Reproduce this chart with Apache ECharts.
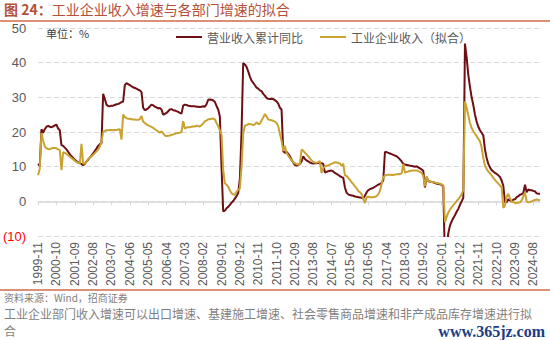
<!DOCTYPE html>
<html><head><meta charset="utf-8">
<script src="https://cdn.jsdelivr.net/npm/echarts@6/dist/echarts.min.js"></script>
<style>html,body{margin:0;padding:0;background:#fff}#c{width:550px;height:340px}</style>
</head><body><div id="c"></div>
<script>
// Monthly categories 1999-11 .. 2024-12
const startYear = 1999, startMonth = 11, monthCount = 302;
const categories = [];
for (let i = 0; i < monthCount; i++) {
  const m = startMonth - 1 + i;
  categories.push((startYear + Math.floor(m / 12)) + '-' + String(m % 12 + 1).padStart(2, '0'));
}
const seriesNames = ['营业收入累计同比', '工业企业收入（拟合）'];
const yTicks = { min: -10, max: 50, step: 10 };

// 营业收入累计同比 (%)
const revenueCumYoY = [
  10.8,10.2,20.8,19.8,20.8,21.5,21.8,21.5,21.4,21.6,21.9,22.1,21.0,20.5,
  16.2,16.0,15.5,15.0,14.3,13.6,13.0,12.5,12.0,11.6,11.2,11.0,
  10.8,10.4,10.8,11.5,12.0,12.6,13.2,13.8,14.5,15.2,16.0,16.5,
  16.8,31.0,29.5,27.9,27.5,27.4,27.6,27.6,27.8,28.0,28.1,28.3,
  28.6,28.8,33.5,34.1,33.8,33.5,33.2,32.9,32.7,32.5,32.2,32.0,
  31.5,27.0,26.3,26.5,26.8,27.4,27.9,27.7,27.3,27.1,26.8,26.9,
  26.5,25.0,25.2,25.5,26.0,26.5,26.6,26.3,26.2,26.0,25.8,25.5,
  25.3,27.6,27.9,27.8,27.6,27.5,27.4,27.4,27.4,27.3,27.3,27.2,
  27.3,27.4,27.3,28.0,29.3,29.4,29.3,29.1,28.7,27.5,26.5,24.5,
  10.0,-2.9,-2.7,-2.0,-1.6,-1.0,-0.4,0.1,0.8,1.5,2.4,6.5,
  20.0,39.9,39.5,38.8,37.5,36.0,34.8,34.2,33.5,32.8,32.5,32.0,
  31.8,31.0,30.5,29.8,29.6,29.5,29.6,29.5,29.2,28.8,28.2,27.0,
  26.5,14.5,14.0,14.3,13.7,13.0,12.0,11.2,10.5,10.3,10.5,10.8,
  11.5,13.0,12.2,11.8,11.5,11.2,11.0,10.9,11.0,11.0,11.1,11.0,
  11.0,10.8,8.3,8.5,8.7,8.8,8.9,8.6,8.2,7.9,7.6,7.3,
  7.0,6.8,4.0,2.5,2.0,1.8,1.7,1.6,1.4,1.3,1.2,1.1,
  1.0,0.9,1.6,2.6,3.2,3.5,3.7,3.9,4.2,4.5,4.8,5.0,
  5.3,6.0,14.2,14.2,14.0,13.8,13.6,13.4,13.2,13.0,12.6,12.1,
  11.5,10.8,10.6,10.5,10.4,10.3,10.2,10.1,10.0,10.1,9.8,9.5,
  9.2,8.8,4.0,7.0,5.8,5.7,5.6,5.5,5.3,5.1,5.0,4.9,
  4.8,4.2,-17.7,-14.0,-9.2,-7.0,-5.8,-4.8,-4.0,-3.0,-2.2,-1.0,
  0.0,1.0,45.5,41.5,36.5,33.0,30.0,27.8,25.0,23.0,21.5,20.5,
  19.8,19.0,15.0,12.5,10.8,9.8,9.0,8.6,8.2,7.9,7.5,7.0,
  6.0,4.5,-0.3,-0.3,0.6,0.3,0.0,0.5,0.6,1.2,1.5,1.9,
  2.1,2.4,4.8,2.6,3.4,3.2,3.2,3.0,2.9,2.3,2.2,2.2
];

// 工业企业收入（拟合） (%)
const fittedRevenue = [
  7.5,9.5,19.7,17.5,15.8,15.3,15.1,15.0,15.3,15.4,15.4,15.3,15.0,14.8,
  9.0,14.2,14.0,13.7,13.3,12.9,12.5,12.1,11.7,11.4,11.1,10.9,
  16.6,10.8,10.9,11.4,12.2,12.6,13.0,13.4,13.9,14.4,14.9,15.8,
  17.2,20.0,20.3,20.5,20.5,20.6,20.6,20.5,20.6,20.6,20.7,20.8,
  17.8,25.0,24.3,24.0,23.8,23.8,23.7,23.6,23.6,23.5,23.5,23.7,
  24.6,23.0,22.6,22.2,21.9,21.7,21.5,21.2,20.8,20.5,20.1,19.8,
  20.2,19.6,19.0,18.8,18.9,19.0,19.2,19.3,19.5,19.6,19.7,19.8,
  20.0,23.1,21.0,21.3,21.4,21.4,21.5,21.6,21.6,21.8,21.7,21.6,
  22.0,22.5,23.1,23.3,23.7,23.7,23.8,23.9,23.6,22.6,21.7,20.5,
  19.2,9.0,5.2,4.8,4.2,3.2,2.3,2.0,1.9,2.8,3.3,3.7,
  10.0,19.5,21.8,22.0,22.3,22.3,22.2,22.0,22.2,22.8,22.3,22.4,
  23.3,24.2,25.2,24.5,23.6,23.5,23.4,23.2,23.0,22.6,21.7,19.5,
  17.5,14.5,16.0,14.0,13.2,12.5,11.8,11.3,11.0,10.7,10.6,10.8,
  14.9,14.6,14.0,13.6,13.0,12.4,11.8,11.4,11.2,11.1,11.3,11.6,
  8.2,9.6,10.0,10.3,10.4,10.6,10.8,11.0,11.3,11.2,11.1,10.9,
  10.2,10.9,7.5,7.3,6.8,6.2,5.5,5.0,4.3,3.8,3.0,2.6,
  2.1,0.8,-0.5,1.2,1.3,1.2,1.2,1.2,1.3,1.5,2.0,3.0,
  5.0,7.0,7.4,7.6,7.7,7.7,7.6,7.6,7.7,7.8,7.8,7.9,
  8.0,10.8,8.2,8.5,8.6,8.8,8.8,8.9,8.9,8.9,8.7,8.5,
  8.2,7.4,4.3,7.2,5.8,5.7,5.6,5.5,5.4,5.3,5.2,5.1,
  4.9,4.6,-6.0,-4.5,-3.2,-2.4,-1.7,-1.1,-0.6,0.1,0.6,1.3,
  2.0,3.2,28.8,27.0,24.8,22.6,21.2,20.2,19.5,18.8,18.0,17.3,
  15.5,12.5,10.3,9.3,8.6,8.1,7.5,6.8,6.2,5.6,5.1,4.6,
  4.0,-1.9,-1.2,1.3,2.2,0.8,0.0,-0.3,-0.4,-0.5,-0.4,-0.3,
  0.3,1.4,2.6,-0.1,-0.3,-0.2,0.0,0.2,0.4,0.5,0.4,0.3
];

const numFont = '"Liberation Sans", Arial, sans-serif';
const cjkFont = '"Noto Sans CJK SC", "Liberation Sans", sans-serif';
const chart = echarts.init(document.getElementById('c'), null, { renderer: 'svg' });
const option = {
  animation: false,
  backgroundColor: '#ffffff',
  textStyle: { fontFamily: numFont },
  grid: { left: 38, right: 10, top: 28, bottom: 104 },
  legend: {
    left: 171, top: 26, icon: 'rect', itemWidth: 26, itemHeight: 2, itemGap: 17,
    textStyle: { fontSize: 12, color: '#595959', fontFamily: cjkFont },
    data: seriesNames
  },
  xAxis: [
    {
      type: 'category', data: categories, boundaryGap: false, position: 'bottom',
      axisLine: { show: false, onZero: false }, axisTick: { show: false },
      axisLabel: { interval: 10, rotate: 90, fontSize: 12, color: '#595959', margin: 6, fontFamily: numFont }
    },
    {
      type: 'category', data: categories, boundaryGap: false, position: 'bottom',
      axisLine: { show: true, onZero: true, lineStyle: { color: '#d9d9d9', width: 1.5 } },
      axisTick: { show: true, interval: 10, length: 4, lineStyle: { color: '#d9d9d9' } },
      axisLabel: { show: false }, splitLine: { show: false }
    }
  ],
  yAxis: {
    type: 'value', min: yTicks.min, max: yTicks.max, interval: yTicks.step,
    axisLine: { show: false }, axisTick: { show: false },
    splitLine: { lineStyle: { color: '#d9d9d9', type: [5, 3], width: 1 } },
    axisLabel: {
      fontSize: 13, color: '#595959', margin: 12, fontFamily: numFont,
      formatter: v => v < 0 ? '{n|(' + (-v) + ')}' : String(v),
      rich: { n: { color: '#ff0000', fontSize: 13, fontFamily: numFont } }
    }
  },
  series: [
    {
      name: seriesNames[0], type: 'line', data: revenueCumYoY, xAxisIndex: 0,
      showSymbol: false, symbol: 'none',
      lineStyle: { color: '#6e0f14', width: 2 }, itemStyle: { color: '#6e0f14' }
    },
    {
      name: seriesNames[1], type: 'line', data: fittedRevenue, xAxisIndex: 0,
      showSymbol: false, symbol: 'none',
      lineStyle: { color: '#c9a232', width: 2 }, itemStyle: { color: '#c9a232' }
    }
  ],
  graphic: [
    { type: 'text', left: 4, top: 2, style: {
      text: '{a|图 24：}{b|工业企业收入增速与各部门增速的拟合}',
      rich: {
        a: { fontSize: 14, fontWeight: 'bold', fill: '#b4503a', fontFamily: cjkFont },
        b: { fontSize: 14, fill: '#b4503a', fontFamily: cjkFont }
      }
    } },
    { type: 'line', shape: { x1: 0, y1: 21, x2: 550, y2: 21 }, style: { stroke: '#dc9078', lineWidth: 2 } },
    { type: 'text', left: 46, top: 27, style: { text: '单位：%', fontSize: 11, fill: '#404040', fontFamily: cjkFont } },
    { type: 'line', shape: { x1: 0, y1: 290, x2: 550, y2: 290 }, style: { stroke: '#dc9078', lineWidth: 2 } },
    { type: 'text', left: 4, top: 292, style: { text: '资料来源：Wind，招商证券', fontSize: 10, fill: '#7f7f7f', fontFamily: cjkFont } },
    { type: 'text', left: 4, top: 307, style: { text: '工业企业部门收入增速可以出口增速、基建施工增速、社会零售商品增速和非产成品库存增速进行拟', fontSize: 12, fill: '#7f7f7f', fontFamily: cjkFont } },
    { type: 'text', left: 4, top: 324, style: { text: '合', fontSize: 12, fill: '#7f7f7f', fontFamily: cjkFont } },
    { type: 'text', right: 5, top: 323, style: { text: 'www.365jz.com', font: 'bold 16px "Liberation Serif", serif', fill: '#1d3c85' } }
  ]
};
chart.setOption(option);
</script>
</body></html>
